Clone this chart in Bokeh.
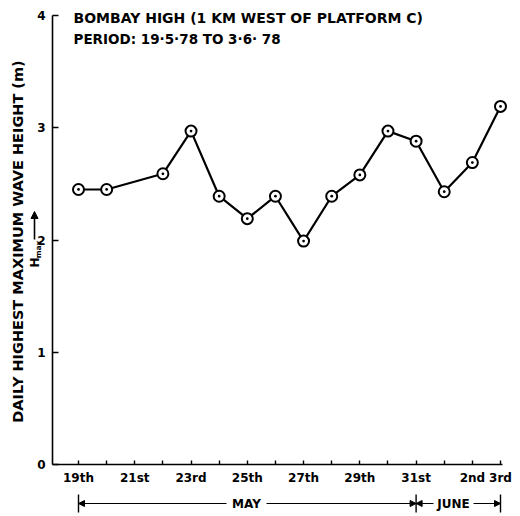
import math
from bokeh.plotting import figure
from bokeh.models import Range1d, FixedTicker, Label, Arrow, NormalHead, ColumnDataSource, LinearAxis
from bokeh.embed import file_html
from bokeh.resources import INLINE

# ---- data (day index: May 19 = 19 ... May 31 = 31, Jun 1 = 32, Jun 2 = 33, Jun 3 = 34)
days = [19, 20, 22, 23, 24, 25, 26, 27, 28, 29, 30, 31, 32, 33, 34]
hmax = [2.45, 2.45, 2.59, 2.97, 2.39, 2.19, 2.39, 1.99, 2.39, 2.58, 2.97, 2.88, 2.43, 2.69, 3.19]

tick_days = list(range(19, 35))
label_days = [19, 21, 23, 25, 27, 29, 31, 33, 34]
label_texts = ["19th", "21st", "23rd", "25th", "27th", "29th", "31st", "2nd", "3rd"]
y_ticks = [0, 1, 2, 3, 4]

title1 = "BOMBAY HIGH (1 KM WEST OF PLATFORM C)"
title2 = "PERIOD: 19\u00b75\u00b778 TO 3\u00b76\u00b7 78"
ylabel = "DAILY HIGHEST MAXIMUM WAVE HEIGHT (m)"

FONT = "DejaVu Sans"
INK = "black"

# ---- layout: the frame covers the whole canvas; axes sit at fixed locations
W, H = 512, 514
SX = 422 / 15.0          # px per day
SY = 449 / 4.0           # px per metre
XA = 19 - 78 / SX        # data x at canvas left
YT = 464 / SY            # data y at canvas top


def dx(px):
    return XA + px / SX


def dy(py):
    return YT - py / SY


p = figure(width=W, height=H, x_range=Range1d(dx(0), dx(W)), y_range=Range1d(dy(H), dy(0)),
           output_backend="svg", toolbar_location=None, x_axis_location=None, y_axis_location=None,
           min_border_left=0, min_border_right=0, min_border_top=0, min_border_bottom=0)
p.outline_line_color = None
p.xgrid.visible = False
p.ygrid.visible = False

xaxis = LinearAxis(fixed_location=0, bounds=(dx(52), dx(502)))
yaxis = LinearAxis(fixed_location=dx(52), bounds=(0, 4))
p.add_layout(xaxis, "below")
p.add_layout(yaxis, "left")

for ax in (xaxis, yaxis):
    ax.axis_line_color = INK
    ax.axis_line_width = 1.6
    ax.major_tick_line_width = 1.4
    ax.minor_tick_line_color = None
    ax.major_tick_out = 0
    ax.major_label_text_font = FONT
    ax.major_label_text_font_style = "bold"
    ax.major_label_text_font_size = "12px"
    ax.major_label_text_color = INK

xaxis.ticker = FixedTicker(ticks=tick_days)
overrides = {d: "" for d in tick_days}
for d, t in zip(label_days, label_texts):
    overrides[d] = t
xaxis.major_label_overrides = overrides
xaxis.major_tick_in = 4
xaxis.major_label_standoff = 6

yaxis.ticker = FixedTicker(ticks=y_ticks)
yaxis.major_tick_in = 6
yaxis.major_label_standoff = 7

src = ColumnDataSource(dict(x=days, y=hmax))
p.line("x", "y", source=src, line_color=INK, line_width=2.2)
p.scatter("x", "y", source=src, marker="circle_dot", size=11, fill_color="white",
          line_color=INK, line_width=2)


def label(px, py, text, size, align="center", angle=0.0):
    p.add_layout(Label(x=dx(px), y=dy(py), text=text, angle=angle, text_font=FONT,
                       text_font_style="bold", text_font_size=size, text_color=INK,
                       text_align=align, text_baseline="middle"))


# title lines inside the plot
label(73, 17, title1, "14px", align="left")
label(73, 38, title2, "13.5px", align="left")

# y axis label
label(17, 241, ylabel, "14.5px", angle=math.pi / 2)
label(34, 262, "H", "12px", angle=math.pi / 2)
label(38, 249, "max", "7.5px", angle=math.pi / 2)
p.add_layout(Arrow(x_start=dx(34), y_start=dy(239), x_end=dx(34), y_end=dy(211),
                   line_width=1.6, line_color=INK,
                   end=NormalHead(size=7, fill_color=INK, line_color=INK)))

# month brackets below axis
by = dy(503)


def head():
    return NormalHead(size=6, fill_color=INK, line_color=INK)


for xs, xe in ((dx(226), 19), (dx(266), 31), (dx(433), 31), (dx(473), 34)):
    p.add_layout(Arrow(x_start=xs, y_start=by, x_end=xe, y_end=by, line_width=1.2,
                       line_color=INK, end=head()))
for bx in (19, 31, 34):
    p.add_layout(Arrow(x_start=bx, y_start=dy(494), x_end=bx, y_end=dy(512), line_width=1.4,
                       line_color=INK, end=None))
label(246, 503, "MAY", "12px")
label(453, 503, "JUNE", "12px")

open("out.html", "w").write(file_html(p, INLINE))
